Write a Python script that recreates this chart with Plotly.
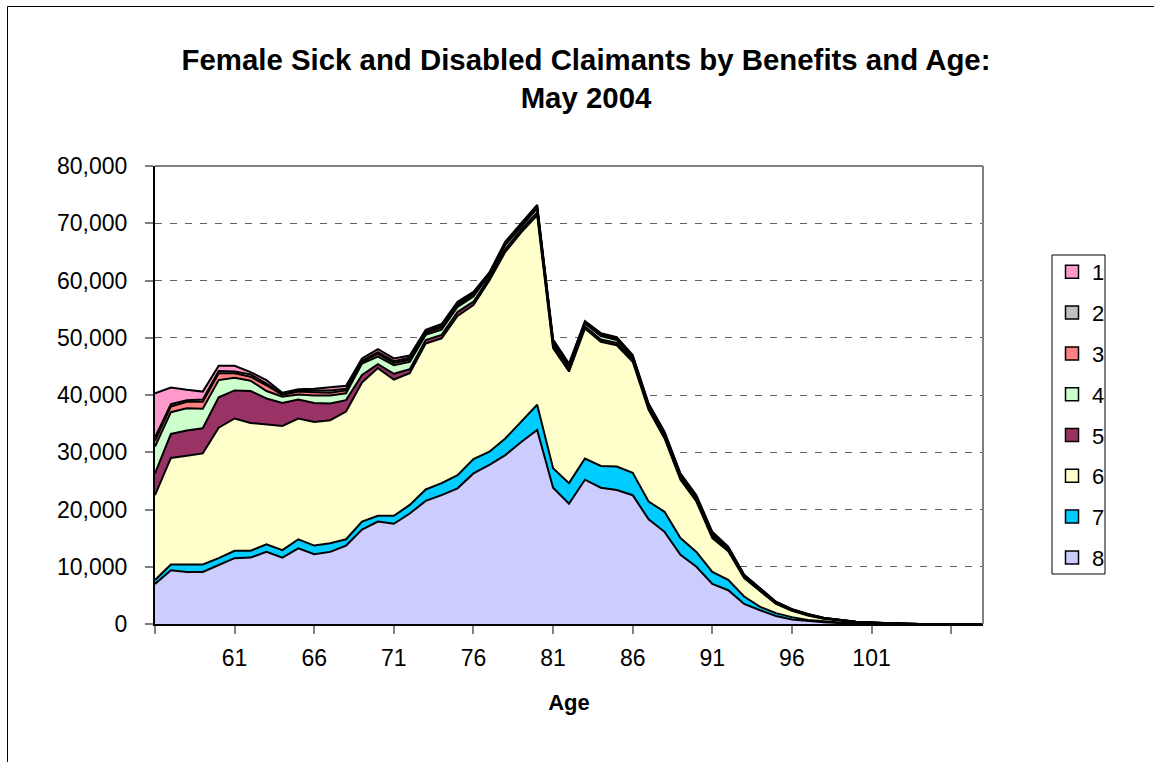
import plotly.graph_objects as go

ages = list(range(56, 109))

# Series values (claimants), ages 56..108
s8 = [7000, 9400, 9100, 9100, 10300, 11500, 11600, 12600, 11600, 13200, 12200, 12600, 13700,
      16500, 17900, 17500, 19300, 21500, 22500, 23700, 26300, 27800, 29500, 31800, 33900,
      23800, 21000, 25200, 23800, 23400, 22500, 18300, 16100, 12100, 10000, 7000, 5900,
      3500, 2400, 1400, 800, 500, 300, 180, 100, 60, 30, 10, 0, 0, 0, 0, 0]
s7 = [700, 1000, 1300, 1300, 1200, 1300, 1200, 1300, 1300, 1600, 1500, 1500, 1100,
      1400, 1000, 1400, 1500, 2000, 2100, 2300, 2500, 2300, 2900, 3500, 4400,
      3400, 3600, 3700, 3800, 4100, 3900, 3100, 3500, 2900, 2600, 2100, 1800,
      1300, 600, 500, 400, 200, 150, 100, 60, 40, 20, 10, 0, 0, 0, 0, 0]
s6 = [14800, 18600, 19000, 19400, 22800, 23100, 22300, 21000, 21700, 21100, 21600, 21500, 22300,
      24300, 25800, 23800, 23000, 25500, 25300, 27800, 26900, 29900, 32600, 33100, 33100,
      21000, 19500, 22700, 21700, 21200, 19400, 16000, 12800, 10200, 8800, 5900, 5000,
      3200, 2700, 1600, 1100, 800, 450, 270, 160, 100, 50, 20, 0, 0, 0, 0, 0]
s5 = [3800, 4200, 4400, 4400, 5300, 4900, 5600, 4500, 4000, 3300, 3300, 2900, 2000,
      1300, 700, 1000, 700, 600, 600, 700, 600, 500, 500, 500, 500,
      400, 400, 400, 400, 400, 400, 300, 300, 300, 300, 300, 200,
      200, 150, 100, 100, 80, 60, 50, 30, 20, 10, 5, 0, 0, 0, 0, 0]
s4 = [4700, 3800, 3900, 3400, 3000, 2200, 1800, 1300, 1100, 900, 1300, 1400, 1200,
      2000, 1300, 1500, 1300, 900, 900, 900, 900, 500, 700, 600, 700,
      500, 500, 500, 600, 500, 400, 400, 400, 400, 300, 300, 300,
      200, 150, 150, 100, 80, 60, 50, 30, 20, 5, 3, 0, 0, 0, 0, 0]
s3 = [1000, 1000, 1100, 1200, 1200, 800, 700, 1000, 300, 500, 600, 500, 500,
      300, 500, 400, 400, 300, 400, 400, 300, 100, 200, 200, 200,
      200, 200, 100, 200, 200, 100, 100, 200, 100, 200, 200, 100,
      100, 100, 50, 50, 40, 30, 20, 10, 5, 3, 1, 0, 0, 0, 0, 0]
s2 = [600, 400, 300, 400, 400, 300, 400, 300, 200, 200, 300, 400, 300,
      200, 300, 300, 300, 300, 300, 200, 300, 100, 200, 100, 200,
      200, 100, 100, 100, 100, 100, 100, 100, 100, 100, 100, 100,
      50, 50, 50, 30, 20, 20, 10, 5, 3, 1, 1, 0, 0, 0, 0, 0]
s1 = [7700, 2900, 1800, 1400, 900, 1000, 400, 600, 200, 200, 300, 500, 500,
      400, 500, 500, 400, 300, 300, 300, 200, 200, 200, 200, 200,
      200, 200, 200, 200, 200, 200, 200, 200, 200, 200, 200, 100,
      50, 50, 50, 20, 30, 30, 20, 5, 2, 1, 0, 0, 0, 0, 0, 0]

series_names = ["1", "2", "3", "4", "5", "6", "7", "8"]
series_values = [s1, s2, s3, s4, s5, s6, s7, s8]
series_colors = ["#FF99CC", "#C0C0C0", "#FF8080", "#CCFFCC", "#993366", "#FFFFCC", "#00CCFF", "#CCCCFF"]

x_tickvals = [56, 61, 66, 71, 76, 81, 86, 91, 96, 101, 106]
x_ticktext = ["", "61", "66", "71", "76", "81", "86", "91", "96", "101", ""]

W, H = 1154, 762
L, R, T, B = 155, 983, 166, 624

fig = go.Figure()

# stacked areas: series 8 at the bottom
for name, vals, col in reversed(list(zip(series_names, series_values, series_colors))):
    fig.add_trace(go.Scatter(
        x=ages, y=vals, name=name, stackgroup="one", mode="lines",
        line=dict(color="black", width=2), fillcolor=col,
        showlegend=False, hoverinfo="skip"))

# legend entries (square swatches)
for name, col in zip(series_names, series_colors):
    fig.add_trace(go.Scatter(
        x=[None], y=[None], name=name, mode="markers", legendgroup=name,
        marker=dict(symbol="square", size=13, color=col, line=dict(color="black", width=1.5)),
        showlegend=True))

pw, ph = R - L, B - T
def px_x(p):  # page x -> paper
    return (p - L) / pw
def px_y(p):  # page y -> paper
    return (B - p) / ph

fig.update_layout(
    width=W, height=H,
    margin=dict(l=L, r=W - R, t=T, b=H - B),
    paper_bgcolor="white", plot_bgcolor="white",
    font=dict(family="Liberation Sans, Arial, sans-serif", color="black"),
    title=dict(
        text="<b>Female Sick and Disabled Claimants by Benefits and Age:<br>May 2004</b>",
        x=586 / W, xref="container", xanchor="center",
        y=1 - 70 / H, yref="container", yanchor="top",
        font=dict(size=29.4, color="black")),
    showlegend=True,
    legend=dict(
        x=px_x(1052), xanchor="left", y=px_y(251), yanchor="top",
        borderwidth=0, bgcolor="rgba(0,0,0,0)",
        font=dict(size=22), traceorder="grouped", tracegroupgap=9.2,
        itemsizing="trace"),
    xaxis=dict(
        range=[56, 108], tickmode="array", tickvals=x_tickvals, ticktext=x_ticktext,
        showline=True, linecolor="black", linewidth=2,
        ticks="outside", ticklen=8, tickwidth=2, tickcolor="#808080",
        tickfont=dict(size=23), ticklabelstandoff=4,
        showgrid=False, zeroline=False,
        title=dict(text="<b>Age</b>", font=dict(size=22), standoff=25)),
    yaxis=dict(
        range=[0, 80000], dtick=10000, tickformat=",",
        showline=True, linecolor="black", linewidth=2,
        ticks="outside", ticklen=8, tickwidth=2, tickcolor="#808080",
        tickfont=dict(size=23), ticklabelstandoff=13,
        showgrid=True, gridcolor="#606060", gridwidth=1, griddash="7px,8px",
        zeroline=False),
    shapes=[
        dict(type="line", xref="paper", yref="paper", x0=0, x1=1, y0=1, y1=1,
             line=dict(color="#808080", width=2)),
        dict(type="line", xref="paper", yref="paper", x0=1, x1=1, y0=0, y1=1,
             line=dict(color="#808080", width=2)),
        dict(type="rect", xref="paper", yref="paper",
             x0=px_x(7.5), x1=px_x(1200), y0=px_y(6.5), y1=px_y(800),
             line=dict(color="black", width=1), fillcolor="rgba(0,0,0,0)"),
        dict(type="rect", xref="paper", yref="paper",
             x0=px_x(1052), x1=px_x(1105), y0=px_y(255), y1=px_y(574),
             line=dict(color="black", width=1), fillcolor="rgba(0,0,0,0)"),
    ],
)

fig.write_html("out.html", config={"displayModeBar": False},
               post_script="document.body.style.margin='0';")
